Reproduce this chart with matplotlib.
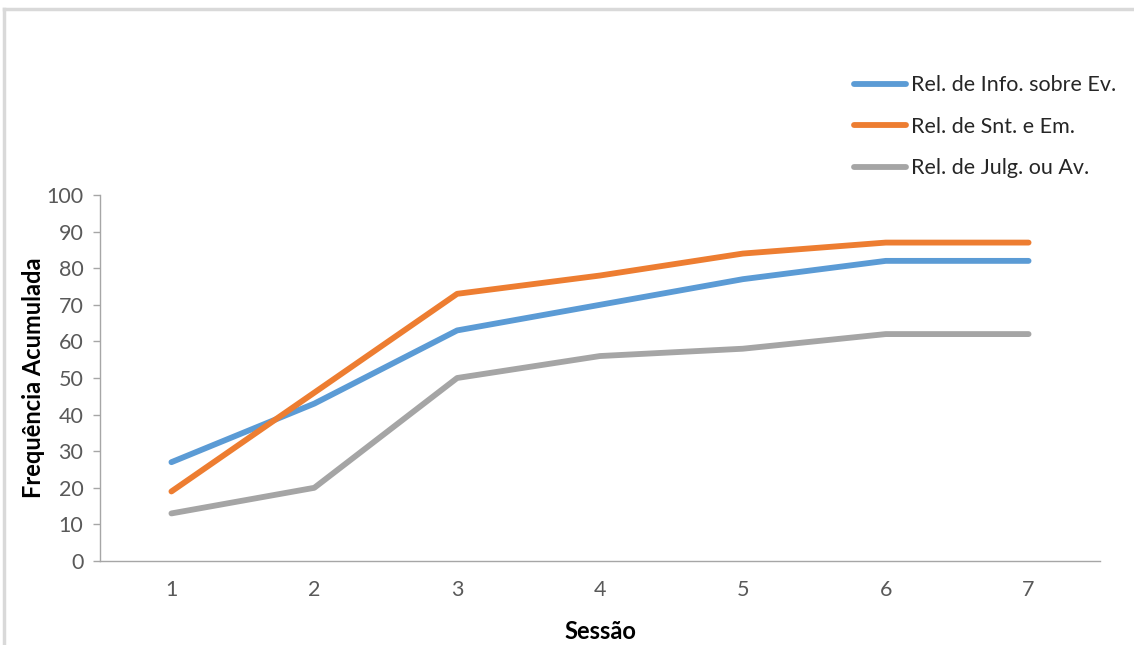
import matplotlib
matplotlib.use('Agg')
import matplotlib.pyplot as plt
from matplotlib.lines import Line2D

plt.rcParams['font.family'] = ['Lato', 'DejaVu Sans']

sessoes = [1, 2, 3, 4, 5, 6, 7]
info_ev = [27, 43, 63, 70, 77, 82, 82]
snt_em = [19, 46, 73, 78, 84, 87, 87]
julg_av = [13, 20, 50, 56, 58, 62, 62]
nomes = ['Rel. de Info. sobre Ev.', 'Rel. de Snt. e Em.', 'Rel. de Julg. ou Av.']
cores = ['#5B9BD5', '#ED7D31', '#A5A5A5']

fig = plt.figure(figsize=(11.34, 6.45), dpi=100)
ax = fig.add_axes([100/1134, 1 - 561/645, 1000/1134, 366/645])

for serie, nome, cor in zip([info_ev, snt_em, julg_av], nomes, cores):
    ax.plot(sessoes, serie, color=cor, lw=4.2, solid_capstyle='round',
            solid_joinstyle='round', label=nome)

ax.set_xlim(0.5, 7.5)
ax.set_ylim(0, 100)
ax.set_yticks(range(0, 101, 10))
ax.set_xticks(sessoes)
for s in ['top', 'right']:
    ax.spines[s].set_visible(False)
for s in ['left', 'bottom']:
    ax.spines[s].set_color('#A6A6A6')
    ax.spines[s].set_linewidth(1)
ax.tick_params(axis='y', colors='#A6A6A6', labelcolor='#595959', labelsize=15.5,
               length=5, width=1, pad=7)
ax.tick_params(axis='x', length=0, labelcolor='#595959', labelsize=15.5, pad=14)

ax.set_xlabel('Sessão', fontsize=17, fontweight='bold', color='black', labelpad=14)
ax.set_ylabel('Frequência Acumulada', fontsize=17, fontweight='bold', color='black', labelpad=1)

leg = ax.legend(loc='upper left', bbox_to_anchor=(835/1134, 1 - 56/645),
                bbox_transform=fig.transFigure, frameon=False, fontsize=15.5,
                handlelength=2.4, handletextpad=0.25, labelspacing=1.0)
for t in leg.get_texts():
    t.set_color('#262626')

# moldura cinza do print
fig.add_artist(Line2D([4/1134, 1], [1 - 9/645, 1 - 9/645], color='#D9D9D9', lw=2.5))
fig.add_artist(Line2D([4/1134, 4/1134], [0, 1 - 9/645], color='#D9D9D9', lw=2.5))

fig.savefig('out.png', dpi=100, facecolor='white')
